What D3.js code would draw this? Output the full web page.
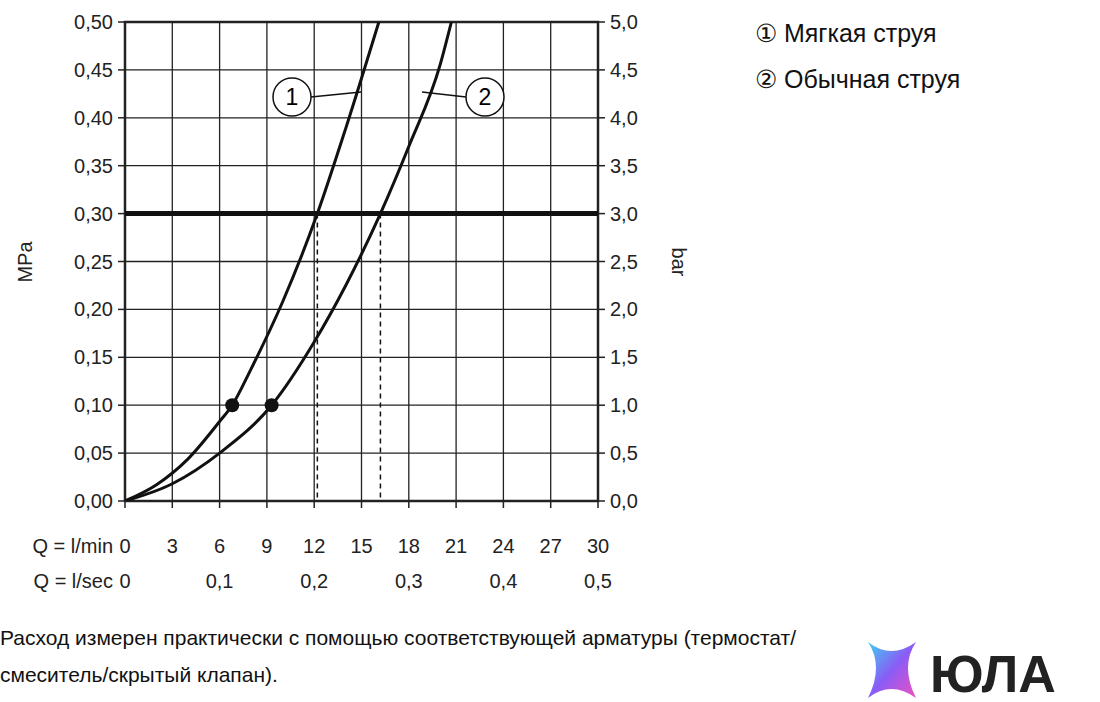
<!DOCTYPE html>
<html><head><meta charset="utf-8">
<script src="https://cdn.jsdelivr.net/npm/d3@7"></script>
<style>body{margin:0;background:#fff}</style></head>
<body><svg id="c" width="1100" height="702"></svg>
<script>
const xTicks=[0,3,6,9,12,15,18,21,24,27,30];
const secTicks=[[0,"0"],[6,"0,1"],[12,"0,2"],[18,"0,3"],[24,"0,4"],[30,"0,5"]];
const yTicks=[0,0.05,0.1,0.15,0.2,0.25,0.3,0.35,0.4,0.45,0.5];
const barLabels=["0,0","0,5","1,0","1,5","2,0","2,5","3,0","3,5","4,0","4,5","5,0"];
const curve1Q=[0,2,4,6,6.8,8,10,12.2,14,16.1];
const curve1P=[0,0.017,0.044,0.083,0.10,0.138,0.208,0.30,0.389,0.50];
const curve2Q=[0,3,6,9.3,12,14,16.2,18,20,20.7];
const curve2P=[0,0.018,0.050,0.10,0.166,0.225,0.30,0.370,0.456,0.50];
const dots=[[6.8,0.10],[9.3,0.10]];
const refP=0.30, refQ=[12.2,16.2];
const legend=["① Мягкая струя","② Обычная струя"];
const note=["Расход измерен практически с помощью соответствующей арматуры (термостат/","смеситель/скрытый клапан)."];

const svg=d3.select("#c");
const x=d3.scaleLinear().domain([0,30]).range([125,598]);
const y=d3.scaleLinear().domain([0,0.5]).range([501,22]);
const F="Liberation Sans, Arial, sans-serif";
const col="#222";
const g=svg.append("g");
g.selectAll(".vx").data(xTicks).join("line").attr("x1",d=>x(d)).attr("x2",d=>x(d)).attr("y1",y(0)).attr("y2",y(0.5)).attr("stroke",col).attr("stroke-width",1.3);
g.selectAll(".hy").data(yTicks).join("line").attr("x1",x(0)).attr("x2",x(30)).attr("y1",d=>y(d)).attr("y2",d=>y(d)).attr("stroke",col).attr("stroke-width",1.3);
g.selectAll(".tl").data(yTicks).join("line").attr("x1",x(0)-7).attr("x2",x(0)).attr("y1",d=>y(d)).attr("y2",d=>y(d)).attr("stroke",col).attr("stroke-width",1.5);
g.selectAll(".tr").data(yTicks).join("line").attr("x1",x(30)).attr("x2",x(30)+7).attr("y1",d=>y(d)).attr("y2",d=>y(d)).attr("stroke",col).attr("stroke-width",1.5);
g.selectAll(".tb").data(xTicks).join("line").attr("x1",d=>x(d)).attr("x2",d=>x(d)).attr("y1",y(0)).attr("y2",y(0)+7).attr("stroke",col).attr("stroke-width",1.5);
g.append("rect").attr("x",x(0)).attr("y",y(0.5)).attr("width",x(30)-x(0)).attr("height",y(0)-y(0.5)).attr("fill","none").attr("stroke",col).attr("stroke-width",2.5);
g.append("line").attr("x1",x(0)).attr("x2",x(30)).attr("y1",y(refP)).attr("y2",y(refP)).attr("stroke","#111").attr("stroke-width",5);
g.selectAll(".dash").data(refQ).join("line").attr("x1",d=>x(d)).attr("x2",d=>x(d)).attr("y1",y(refP)).attr("y2",y(0)).attr("stroke","#111").attr("stroke-width",1.5).attr("stroke-dasharray","5,4");
svg.append("clipPath").attr("id","cp").append("rect").attr("x",x(0)).attr("y",y(0.5)).attr("width",x(30)-x(0)).attr("height",y(0)-y(0.5));
const line=d3.line().x(d=>x(d[0])).y(d=>y(d[1])).curve(d3.curveMonotoneX);
[[curve1Q,curve1P],[curve2Q,curve2P]].forEach(([q,p])=>{
 g.append("path").attr("d",line(q.map((v,i)=>[v,p[i]]))).attr("fill","none").attr("stroke","#111").attr("stroke-width",3).attr("clip-path","url(#cp)");
});
g.selectAll(".dot").data(dots).join("circle").attr("cx",d=>x(d[0])).attr("cy",d=>y(d[1])).attr("r",7).attr("fill","#111");
[[292,97,"1",361],[485,97,"2",422]].forEach(([cx,cy,t,lx])=>{
 const r=19;
 const sx= lx>cx? cx+r : cx-r;
 g.append("line").attr("x1",sx).attr("x2",lx).attr("y1",cy).attr("y2",cy-5).attr("stroke","#111").attr("stroke-width",1.5);
 g.append("circle").attr("cx",cx).attr("cy",cy).attr("r",r).attr("fill","#fff").attr("stroke","#111").attr("stroke-width",1.5);
 g.append("text").attr("x",cx).attr("y",cy+8).attr("text-anchor","middle").attr("font-family",F).attr("font-size",23).text(t);
});
const fs=20;
g.selectAll(".yl").data(yTicks).join("text").attr("x",x(0)-12).attr("y",d=>y(d)+7).attr("text-anchor","end").attr("font-family",F).attr("font-size",fs).attr("fill","#222").text(d=>d.toFixed(2).replace(".",","));
g.selectAll(".yr").data(yTicks).join("text").attr("x",x(30)+12).attr("y",d=>y(d)+7).attr("font-family",F).attr("font-size",fs).attr("fill","#222").text((d,i)=>barLabels[i]);
g.selectAll(".xl").data(xTicks).join("text").attr("x",d=>x(d)).attr("y",553).attr("text-anchor","middle").attr("font-family",F).attr("font-size",fs).attr("fill","#222").text(d=>d);
g.selectAll(".xs").data(secTicks).join("text").attr("x",d=>x(d[0])).attr("y",588).attr("text-anchor","middle").attr("font-family",F).attr("font-size",fs).attr("fill","#222").text(d=>d[1]);
g.append("text").attr("x",113).attr("y",553).attr("text-anchor","end").attr("font-family",F).attr("font-size",fs).attr("fill","#222").text("Q = l/min");
g.append("text").attr("x",113).attr("y",588).attr("text-anchor","end").attr("font-family",F).attr("font-size",fs).attr("fill","#222").text("Q = l/sec");
g.append("text").attr("transform","translate(32,262) rotate(-90)").attr("text-anchor","middle").attr("font-family",F).attr("font-size",fs).attr("fill","#222").text("MPa");
g.append("text").attr("transform","translate(672,262) rotate(90)").attr("text-anchor","middle").attr("font-family",F).attr("font-size",fs).attr("fill","#222").text("bar");
legend.forEach((t,i)=>svg.append("text").attr("x",755).attr("y",42+i*46).attr("font-family",F).attr("font-size",25).attr("fill","#111").text(t));
note.forEach((t,i)=>svg.append("text").attr("x",0).attr("y",645+i*37).attr("font-family",F).attr("font-size",21).attr("fill","#111").text(t));
const defs=svg.append("defs");
const gr=defs.append("linearGradient").attr("id","lg").attr("x1","0").attr("y1","0").attr("x2","1").attr("y2","1");
gr.append("stop").attr("offset","0").attr("stop-color","#3fd0f0");
gr.append("stop").attr("offset","0.5").attr("stop-color","#8a5cf6");
gr.append("stop").attr("offset","1").attr("stop-color","#f050c0");
svg.append("rect").attr("x",850).attr("y",630).attr("width",250).attr("height",72).attr("fill","#fff");
svg.append("path").attr("d","M868,642 Q891,660 916,642 Q900,666 916,698 Q891,680 868,698 Q884,666 868,642Z").attr("fill","url(#lg)");
svg.append("text").attr("x",930).attr("y",692).attr("font-family",F).attr("font-weight","bold").attr("font-size",52).attr("fill","#222").text("ЮЛА");
</script></body></html>
